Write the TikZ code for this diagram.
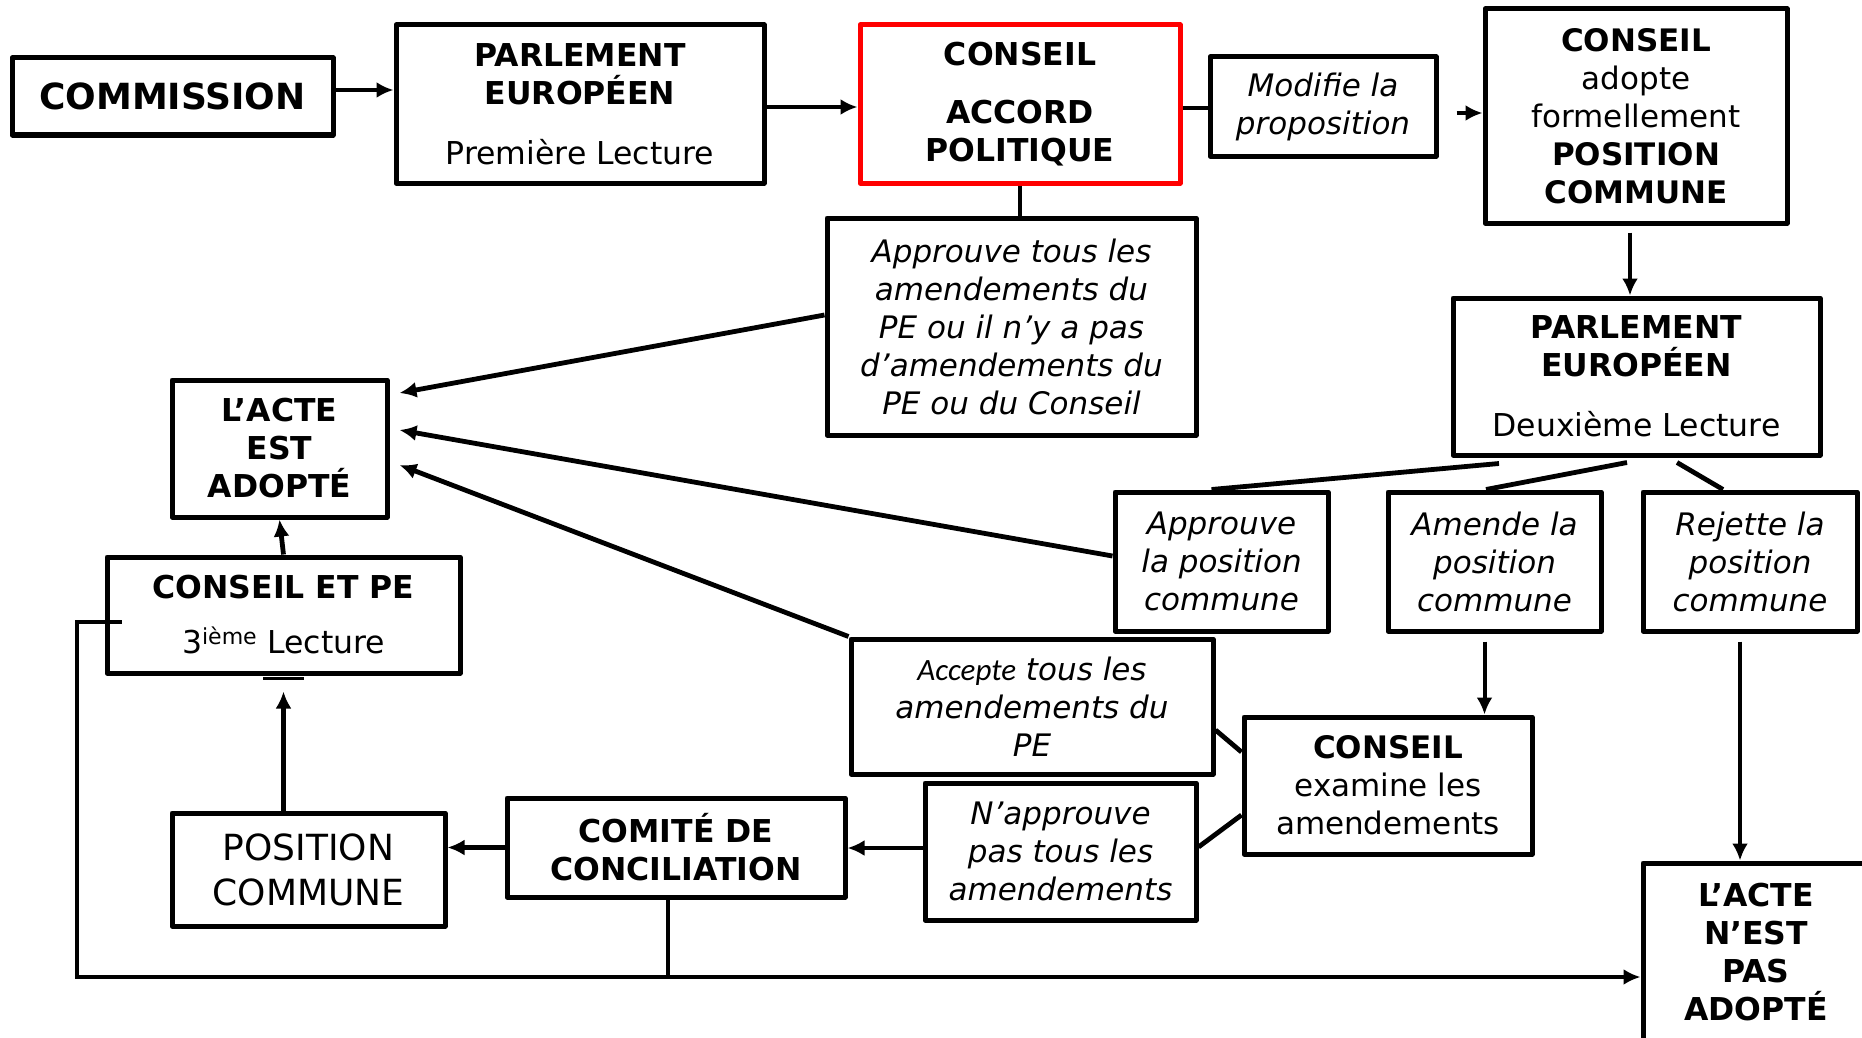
\documentclass[tikz,border=0pt]{standalone}
\usepackage{fontspec}
\setmainfont{DejaVu Sans}
\newfontfamily\carlitofont{Carlito}
\usetikzlibrary{arrows.meta,calc}
\begin{document}
\begin{tikzpicture}[x=1pt,y=-1pt,
  box/.style={draw=black,line width=5pt,line join=round,inner sep=0pt,align=center,font=\fontsize{31}{38}\selectfont},
  bbox/.style={box,font=\bfseries\fontsize{31.5}{38}\selectfont},
  ibox/.style={box,font=\itshape\fontsize{31}{38}\selectfont},
  ln/.style={line width=4.8pt},
  thinln/.style={line width=4pt},
  arr/.style={-{Latex[length=17pt,width=16pt]}},
]
\useasboundingbox (0,0) rectangle (1862,1038);

% nodes
\node[bbox,minimum width=321pt,minimum height=77pt,font=\bfseries\fontsize{36}{43}\selectfont] (com) at (172.5,96.5) {COMMISSION};
\node[bbox,minimum width=368pt,minimum height=158pt] (pe1) at (580,104) {PARLEMENT\\EUROPÉEN\\[22pt]{\mdseries Première Lecture}};
\node[bbox,draw=red,minimum width=320pt,minimum height=158pt] (acc) at (1020,104) {CONSEIL\\[20pt]ACCORD\\POLITIQUE};
\node[ibox,minimum width=226pt,minimum height=99pt] (mod) at (1323,106.5) {Modifie la\\proposition};
\node[box,minimum width=302pt,minimum height=214pt] (cpc) at (1636,116) {\textbf{CONSEIL}\\adopte\\formellement\\\textbf{POSITION}\\\textbf{COMMUNE}};
\node[ibox,minimum width=369pt,minimum height=217pt] (app) at (1011.5,326.5) {Approuve tous les\\amendements du\\PE ou il n’y a pas\\d’amendements du\\PE ou du Conseil};
\node[bbox,minimum width=367pt,minimum height=157pt] (pe2) at (1636.5,376.5) {PARLEMENT\\EUROPÉEN\\[22pt]{\mdseries Deuxième Lecture}};
\node[bbox,minimum width=215pt,minimum height=137pt] (acte) at (279.5,448.5) {L’ACTE\\EST\\ADOPTÉ};
\node[bbox,minimum width=353pt,minimum height=116pt] (cpe) at (283.5,615) {CONSEIL ET PE\\[17pt]{\mdseries 3\textsuperscript{ième} Lecture}};
\node[ibox,minimum width=213pt,minimum height=139pt] (apc) at (1221.5,561.5) {Approuve\\la position\\commune};
\node[ibox,minimum width=213pt,minimum height=139pt] (amc) at (1494.5,561.5) {Amende la\\position\\commune};
\node[ibox,minimum width=214pt,minimum height=139pt] (rpc) at (1750,561.5) {Rejette la\\position\\commune};
\node[ibox,minimum width=362pt,minimum height=135pt] (acp) at (1032,706.5) {{\carlitofont\itshape Accepte} tous les\\amendements du\\PE};
\node[box,minimum width=288pt,minimum height=137pt] (cex) at (1388,785.5) {\textbf{CONSEIL}\\examine les\\amendements};
\node[ibox,minimum width=271pt,minimum height=137pt] (nap) at (1060.5,851.5) {N’approuve\\pas tous les\\amendements};
\node[bbox,minimum width=338pt,minimum height=99pt] (cc) at (676,847.5) {COMITÉ DE\\CONCILIATION};
\node[box,minimum width=273pt,minimum height=113pt,font=\fontsize{36}{45}\selectfont] (poc) at (308.5,869.5) {POSITION\\COMMUNE};
\node[bbox,minimum width=226pt,minimum height=178pt] (nad) at (1756,952) {L’ACTE\\N’EST\\PAS\\ADOPTÉ};

% connectors
\coordinate (c1) at ($(com.east)+(0,-6.5)$);
\draw[ln,arr] (c1) -- (c1 -| pe1.west);
\coordinate (c2) at ($(pe1.east)+(0,3)$);
\draw[ln,arr] (c2) -- (c2 -| acc.west);
\coordinate (c3) at ($(acc.east)+(0,4)$);
\draw[ln] (c3) -- (c3 -| mod.west);
\coordinate (c4) at ($(mod.east)+(18,6.5)$);
\draw[ln,arr] (c4) -- (c4 -| cpc.west);
\draw[thinln] (acc.south) -- (acc.south |- app.north);
\coordinate (c5) at ($(cpc.south)+(-6,7)$);
\draw[thinln,arr] (c5) -- (c5 |- pe2.north);

\draw[ln,arr] ($(app.west)+(0,-11.5)$) -- ($(acte.east)+(10,-55.5)$);
\draw[ln,arr] ($(apc.west)+(0,-5.5)$) -- ($(acte.east)+(10,-18.5)$);
\draw[ln,arr] (acp.north west) -- ($(acte.east)+(10,16.5)$);
\draw[ln,arr] (cpe.north) -- (acte.south);

\draw[line width=3pt] ($(cpe.south)+(-20.5,2.5)$) -- ($(cpe.south)+(20.5,2.5)$);
\coordinate (c6) at (poc.north -| cpe.south);
\draw[ln,arr] (c6) -- ($(cpe.south)+(0,16)$);

\draw[ln,arr] (cc.west) -- (cc.west -| poc.east);
\coordinate (c7) at ($(nap.west)+(0,-3.5)$);
\draw[ln,arr] (c7) -- (c7 -| cc.east);

\coordinate (tl) at (77,622);
\coordinate (bl) at (77,977);
\draw[ln,arr] ($(cpe.west)+(17,7)$) -- (tl) -- (bl) -- (bl -| nad.west);
\coordinate (c8) at ($(cc.south)+(-8,0)$);
\draw[thinln] (c8) -- (c8 |- bl);

\coordinate (p1) at ($(pe2.south)+(-137.5,6)$);
\coordinate (p2) at ($(pe2.south)+(-9.5,5)$);
\coordinate (p3) at ($(pe2.south)+(40.5,5)$);
\draw[ln] (p1) -- ($(apc.north)+(-10,0)$);
\draw[ln] (p2) -- ($(amc.north)+(-8.5,0)$);
\draw[ln] (p3) -- ($(rpc.north)+(-27,0)$);

\coordinate (c9) at ($(amc.south)+(-10,8)$);
\draw[thinln,arr] (c9) -- (c9 |- cex.north);
\coordinate (c10) at ($(rpc.south)+(-10,8)$);
\draw[thinln,arr] (c10) -- (c10 |- nad.north);

\draw[ln] ($(acp.east)+(0,23.5)$) -- ($(cex.west)+(0,-33.5)$);
\draw[ln] ($(nap.east)+(0,-4.5)$) -- ($(cex.west)+(0,29.5)$);
\end{tikzpicture}
\end{document}
